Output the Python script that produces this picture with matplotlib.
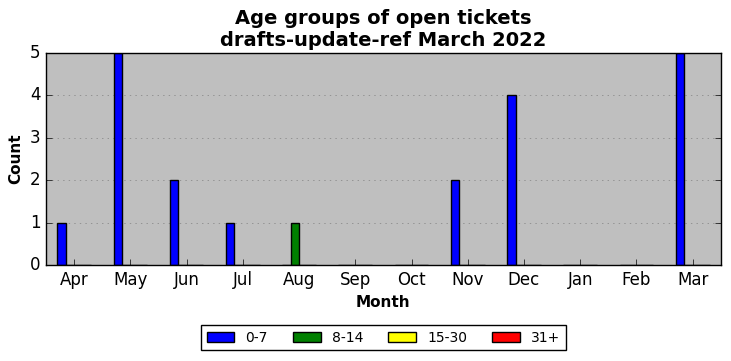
import numpy as np
import matplotlib
matplotlib.use("Agg")
import matplotlib.pyplot as plt

plt.style.use("classic")

months = ["Apr", "May", "Jun", "Jul", "Aug", "Sep", "Oct", "Nov", "Dec", "Jan", "Feb", "Mar"]
groups = ["0-7", "8-14", "15-30", "31+"]
colors = ["blue", "green", "yellow", "red"]
age_0_7 = [1, 5, 2, 1, 0, 0, 0, 2, 4, 0, 0, 5]
age_8_14 = [0, 0, 0, 0, 1, 0, 0, 0, 0, 0, 0, 0]
age_15_30 = [0, 0, 0, 0, 0, 0, 0, 0, 0, 0, 0, 0]
age_31 = [0, 0, 0, 0, 0, 0, 0, 0, 0, 0, 0, 0]
series = [age_0_7, age_8_14, age_15_30, age_31]

fig = plt.figure(figsize=(7.31, 3.61), dpi=100, facecolor="white")
ax = fig.add_axes([0.063, 0.266, 0.923, 0.587])
ax.set_facecolor("#bfbfbf")

x = np.arange(len(months))
w = 0.15
for i, (vals, g, c) in enumerate(zip(series, groups, colors)):
    ax.bar(x + (i - 1.5) * w, vals, w, color=c, edgecolor="black", label=g, align="center")

ax.set_xlim(-0.5, len(months) - 0.5)
ax.set_ylim(0, 5)
ax.set_xticks(x)
ax.set_xticklabels(months)
ax.yaxis.grid(True, color="gray", linestyle=":")
ax.set_axisbelow(True)
ax.tick_params(top=False, right=True)
ax.set_xlabel("Month", fontweight="bold", fontsize=11)
ax.set_ylabel("Count", fontweight="bold", fontsize=11)
ax.set_title("Age groups of open tickets\ndrafts-update-ref March 2022", fontweight="bold", fontsize=14)
ax.legend(loc="upper center", bbox_to_anchor=(0.5, -0.285), ncol=4, fontsize=10,
          handlelength=2.0, columnspacing=1.8, borderaxespad=0)

plt.savefig("out.png", dpi=100, facecolor="white")
